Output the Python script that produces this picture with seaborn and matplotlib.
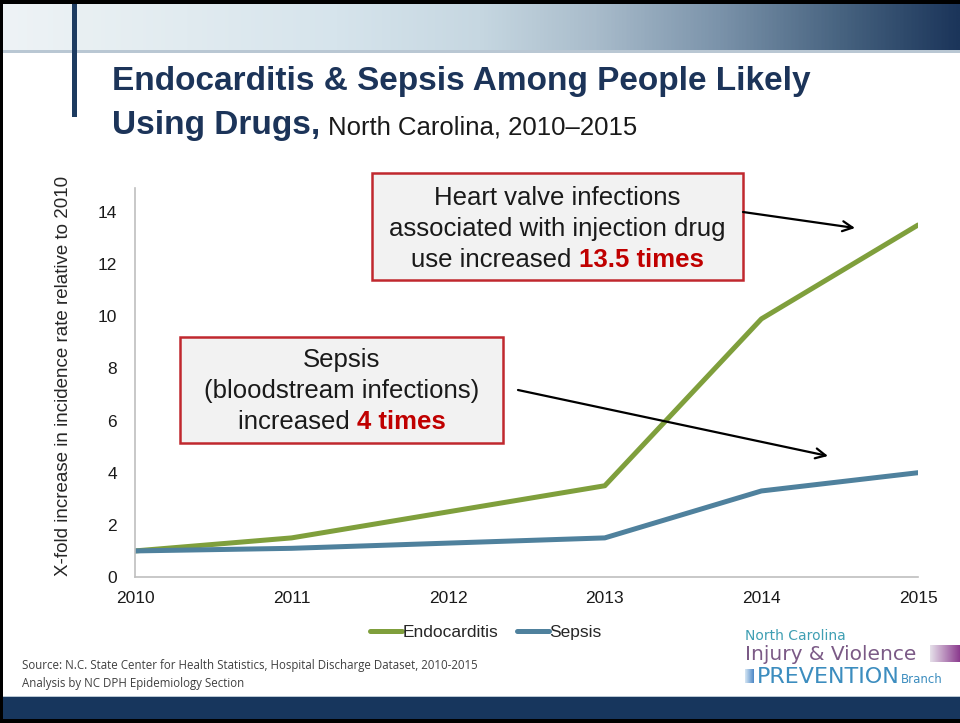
import matplotlib
matplotlib.use("Agg")
import numpy as np
import pandas as pd
import matplotlib.pyplot as plt
import seaborn as sns
from matplotlib.patches import Rectangle
from matplotlib.colors import LinearSegmentedColormap

# ---- data -------------------------------------------------------------
years = [2010, 2011, 2012, 2013, 2014, 2015]
endocarditis = [1.0, 1.5, 2.5, 3.5, 9.9, 13.5]
sepsis = [1.0, 1.1, 1.3, 1.5, 3.3, 4.0]
series_names = ["Endocarditis", "Sepsis"]
y_ticks = [0, 2, 4, 6, 8, 10, 12, 14]

df = pd.DataFrame({
    "year": years * 2,
    "value": endocarditis + sepsis,
    "series": [series_names[0]] * len(years) + [series_names[1]] * len(years),
})

GREEN = "#7f9f3c"
BLUE = "#4f819d"
NAVY = "#1c3459"
BOX_EDGE = "#c0282e"
RED_TXT = "#c00000"

sns.set_theme(style="white")
plt.rcParams["font.family"] = ["Liberation Sans", "DejaVu Sans"]

W, H = 960, 723
fig = plt.figure(figsize=(W / 100, H / 100), dpi=100)
fig.patch.set_facecolor("white")

# ---- main chart -------------------------------------------------------
ax = fig.add_axes([135 / W, 1 - 577 / H, (918 - 135) / W, (577 - 188) / H])
sns.lineplot(data=df, x="year", y="value", hue="series",
             palette={series_names[0]: GREEN, series_names[1]: BLUE},
             linewidth=3.6, ax=ax, legend="full")
ax.set_xlim(2010, 2015)
ax.set_ylim(0, 14.92)
ax.set_xticks(years)
ax.set_xticklabels([str(y) for y in years])
ax.set_yticks(y_ticks)
ax.tick_params(axis="both", length=0, labelsize=12.5, colors="#1a1a1a")
ax.tick_params(axis="y", pad=13)
ax.tick_params(axis="x", pad=10)
for s in ["top", "right"]:
    ax.spines[s].set_visible(False)
for s in ["left", "bottom"]:
    ax.spines[s].set_color("#bfbfbf")
    ax.spines[s].set_linewidth(1.2)
ax.set_xlabel("")
ax.set_ylabel("X-fold increase in incidence rate relative to 2010",
              fontsize=13.5, color="#262626")
ax.yaxis.set_label_coords(-0.08, 0.517)
ax.grid(False)

sns.move_legend(ax, "center", bbox_to_anchor=(486 / W, 1 - 632 / H),
                bbox_transform=fig.transFigure, ncol=2, frameon=False,
                title=None, fontsize=12.5, handlelength=1.8,
                handletextpad=0.05, columnspacing=1.1)
for ln in ax.get_legend().get_lines():
    ln.set_linewidth(3.6)

# ---- overlay in pixel coordinates ----------------------------------------
ov = fig.add_axes([0, 0, 1, 1], zorder=5)
ov.patch.set_alpha(0)
ov.axis("off")

# header gradient band
stops = [(0.0, "#eef3f6"), (0.08, "#e9f0f3"), (0.35, "#d6e4ec"),
         (0.5, "#c6d7e1"), (0.62, "#a9bccb"), (0.75, "#7b93aa"),
         (0.88, "#46627f"), (1.0, "#1b355a")]
cmap = LinearSegmentedColormap.from_list("band", stops)
grad = np.linspace(0, 1, 512)[None, :]
ov.imshow(grad, cmap=cmap, extent=(0, W, 50, 4), aspect="auto", zorder=1)
ov.add_patch(Rectangle((0, 50), W, 2.5, color="#b9c7d3", lw=0, zorder=2))
ov.add_patch(Rectangle((72, 4), 4.5, 113, color="#1d3b60", lw=0, zorder=3))

# footer band and frame
ov.add_patch(Rectangle((0, 697), W, 22, color="#17365d", lw=0, zorder=2))
ov.add_patch(Rectangle((0, 695.5), W, 1.5, color="#b9c7d3", lw=0, zorder=2))
ov.add_patch(Rectangle((0, 0), W, 4, color="black", lw=0, zorder=4))
ov.add_patch(Rectangle((0, 719), W, 4, color="black", lw=0, zorder=4))
ov.add_patch(Rectangle((0, 0), 3, H, color="black", lw=0, zorder=4))

ov.set_xlim(0, W)
ov.set_ylim(H, 0)
renderer = fig.canvas.get_renderer()

# title
ov.text(112, 90, "Endocarditis & Sepsis Among People Likely", fontsize=24,
        fontweight="bold", color=NAVY, va="baseline")
t2 = ov.text(112, 134, "Using Drugs,", fontsize=24, fontweight="bold",
             color=NAVY, va="baseline")
w2 = t2.get_window_extent(renderer).width
ov.text(112 + w2 + 8, 134, "North Carolina, 2010\u20132015", fontsize=18.5,
        color="#1a1a1a", va="baseline")


def mixed_line(xc, y, parts, size=18.5):
    texts = [ov.text(0, y, s, color=c, fontweight=wt, fontsize=size,
                     ha="left", va="baseline", zorder=8)
             for s, c, wt in parts]
    r = fig.canvas.get_renderer()
    widths = [t.get_window_extent(r).width for t in texts]
    x = xc - sum(widths) / 2
    for t, w in zip(texts, widths):
        t.set_x(x)
        x += w


# annotation boxes
ov.add_patch(Rectangle((372, 173), 371, 107, facecolor="#f2f2f2",
                       edgecolor=BOX_EDGE, lw=1.8, zorder=7))
mixed_line(557.5, 205, [("Heart valve infections", "#1a1a1a", "normal")])
mixed_line(557.5, 236, [("associated with injection drug", "#1a1a1a", "normal")])
mixed_line(557.5, 267, [("use increased ", "#1a1a1a", "normal"),
                        ("13.5 times", RED_TXT, "bold")])

ov.add_patch(Rectangle((180, 337), 323, 106, facecolor="#f2f2f2",
                       edgecolor=BOX_EDGE, lw=1.8, zorder=7))
mixed_line(341.5, 367, [("Sepsis", "#1a1a1a", "normal")])
mixed_line(341.5, 398, [("(bloodstream infections)", "#1a1a1a", "normal")])
mixed_line(341.5, 429, [("increased ", "#1a1a1a", "normal"),
                        ("4 times", RED_TXT, "bold")])

# arrows
arrow_kw = dict(arrowstyle="->", color="black", lw=1.6,
                mutation_scale=18, shrinkA=0, shrinkB=0)
ov.annotate("", xy=(855, 228), xytext=(743, 212), arrowprops=arrow_kw, zorder=9)
ov.annotate("", xy=(828, 456), xytext=(518, 390), arrowprops=arrow_kw, zorder=9)

# source note
src_font = ["Open Sans", "DejaVu Sans"]
ov.text(22, 666, "Source: N.C. State Center for Health Statistics, Hospital "
        "Discharge Dataset, 2010-2015", fontsize=8.3, color="#404040",
        family=src_font, va="center")
ov.text(22, 684, "Analysis by NC DPH Epidemiology Section", fontsize=8.3,
        color="#404040", family=src_font, va="center")

# branch logo
logo_font = ["DejaVu Sans"]
ov.text(745, 636, "North Carolina", fontsize=10, color="#3f9fb3",
        family=logo_font, va="center")
ov.text(745, 654, "Injury & Violence", fontsize=14.5, color="#7b5a86",
        family=logo_font, va="center")
tp = ov.text(757, 683, "PREVENTION", fontsize=16, color="#3c8dbf",
             family=logo_font, va="baseline")
wp = tp.get_window_extent(renderer).width
ov.text(757 + wp + 1, 683, "Branch", fontsize=8.5, color="#3c8dbf",
        family=logo_font, va="baseline")
purple = LinearSegmentedColormap.from_list("p", ["#e6e1ea", "#8b3a8e"])
ov.imshow(grad, cmap=purple, extent=(930, 960, 662, 645), aspect="auto", zorder=3)
blue = LinearSegmentedColormap.from_list("b", ["#d6e6f4", "#4a86c5"])
ov.imshow(grad, cmap=blue, extent=(745, 754, 683, 669), aspect="auto", zorder=3)
ov.set_xlim(0, W)
ov.set_ylim(H, 0)

fig.savefig("out.png", dpi=100)
